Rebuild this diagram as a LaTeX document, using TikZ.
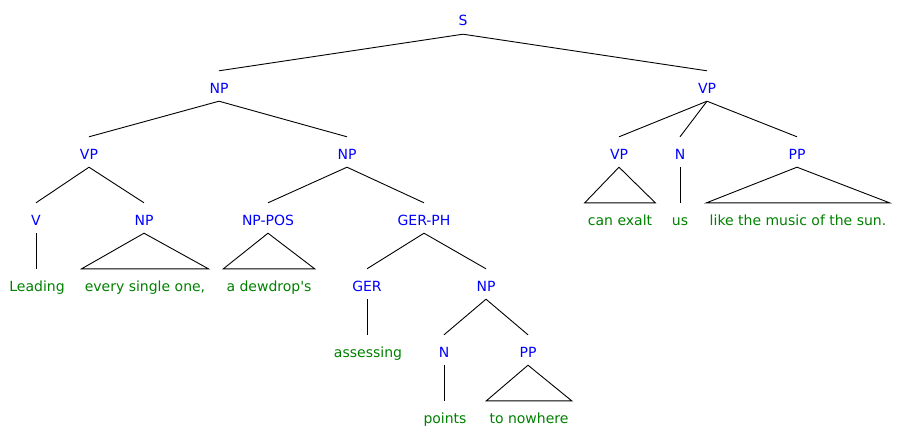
\documentclass[tikz,border=0pt]{standalone}
\usepackage{fontspec}
\setmainfont{DejaVu Sans}
\definecolor{catblue}{RGB}{0,0,255}
\definecolor{leafgreen}{RGB}{0,128,0}
\begin{document}
\begin{tikzpicture}[x=1pt,y=-1pt,
  lab/.style={anchor=base, inner xsep=3pt, inner ysep=0pt, text height=22pt, text depth=8pt, font=\fontsize{14}{16}\selectfont},
  cat/.style={lab, text=catblue},
  leaf/.style={lab, text=leafgreen},
  edge/.style={draw=black, line width=0.9pt}]
\useasboundingbox (0,0) rectangle (909,436);
% level 0
\node[cat] (s) at (463,26) {S};
% level 1
\node[cat] (np1) at (219,93) {NP};
\node[cat] (vpr) at (707,93) {VP};
% level 2
\node[cat] (vp1) at (89,159) {VP};
\node[cat] (np2) at (347,159) {NP};
\node[cat] (vpr1) at (619,159) {VP};
\node[cat] (nr) at (680,159) {N};
\node[cat] (ppr) at (797,159) {PP};
% level 3
\node[cat] (v) at (36,225) {V};
\node[cat] (np3) at (144,225) {NP};
\node[cat] (nppos) at (268,225) {NP-POS};
\node[cat] (gerph) at (424,225) {GER-PH};
\node[leaf] (canexalt) at (620,225) {can exalt};
\node[leaf] (us) at (680,225) {us};
\node[leaf] (likesun) at (798,225) {like the music of the sun.};
% level 4
\node[leaf] (leading) at (37,291) {Leading};
\node[leaf] (every) at (145,291) {every single one,};
\node[leaf] (dewdrop) at (269,291) {a dewdrop\textquotesingle s};
\node[cat] (ger) at (367,291) {GER};
\node[cat] (np4) at (486,291) {NP};
% level 5
\node[leaf] (assessing) at (368,357) {assessing};
\node[cat] (n5) at (444,357) {N};
\node[cat] (pp5) at (528,357) {PP};
% level 6
\node[leaf] (points) at (445,423) {points};
\node[leaf] (nowhere) at (529,423) {to nowhere};
% edges
\draw[edge] (s.south) -- (np1.north);
\draw[edge] (s.south) -- (vpr.north);
\draw[edge] (np1.south) -- (vp1.north);
\draw[edge] (np1.south) -- (np2.north);
\draw[edge] (vpr.south) -- (vpr1.north);
\draw[edge] (vpr.south) -- (nr.north);
\draw[edge] (vpr.south) -- (ppr.north);
\draw[edge] (vp1.south) -- (v.north);
\draw[edge] (vp1.south) -- (np3.north);
\draw[edge] (np2.south) -- (nppos.north);
\draw[edge] (np2.south) -- (gerph.north);
\draw[edge] (gerph.south) -- (ger.north);
\draw[edge] (gerph.south) -- (np4.north);
\draw[edge] (np4.south) -- (n5.north);
\draw[edge] (np4.south) -- (pp5.north);
% unary
\draw[edge] (v.south) -- (v.south |- leading.north);
\draw[edge] (ger.south) -- (ger.south |- assessing.north);
\draw[edge] (n5.south) -- (n5.south |- points.north);
\draw[edge] (nr.south) -- (us.north);
% triangles
\draw[edge] (np3.south) -- (every.north west) -- (every.north east) -- cycle;
\draw[edge] (nppos.south) -- (dewdrop.north west) -- (dewdrop.north east) -- cycle;
\draw[edge] (pp5.south) -- (nowhere.north west) -- (nowhere.north east) -- cycle;
\draw[edge] (vpr1.south) -- (canexalt.north west) -- (canexalt.north east) -- cycle;
\draw[edge] (ppr.south) -- (likesun.north west) -- (likesun.north east) -- cycle;
\end{tikzpicture}
\end{document}
